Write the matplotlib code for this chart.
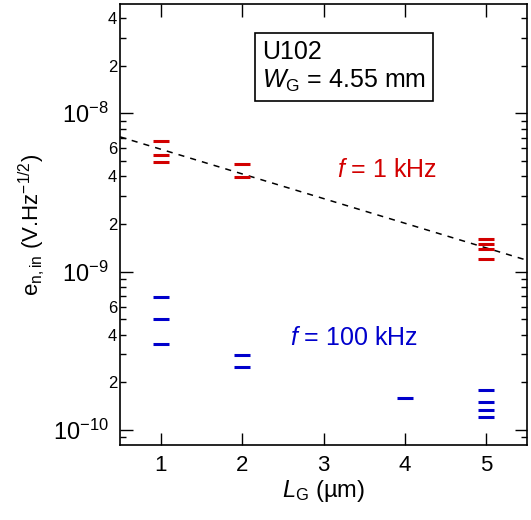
import math
import matplotlib
matplotlib.use("Agg")
import matplotlib.pyplot as plt
from matplotlib.ticker import FixedLocator, FuncFormatter

plt.rcParams['font.family'] = ['Liberation Sans', 'DejaVu Sans']
plt.rcParams['mathtext.fontset'] = 'custom'
plt.rcParams['mathtext.rm'] = 'Liberation Sans'
plt.rcParams['mathtext.it'] = 'Liberation Sans:italic'
plt.rcParams['mathtext.bf'] = 'Liberation Sans:bold'

# gate length (um) and input noise (V/sqrt(Hz))
lg_1khz = [1, 1, 1, 2, 2, 5, 5, 5, 5]
en_1khz = [6.72e-9, 5.47e-9, 4.94e-9, 4.76e-9, 3.98e-9, 1.60e-9, 1.49e-9, 1.40e-9, 1.20e-9]
lg_100khz = [1, 1, 1, 2, 2, 4, 5, 5, 5, 5]
en_100khz = [6.9e-10, 5.0e-10, 3.5e-10, 2.98e-10, 2.49e-10, 1.60e-10, 1.80e-10, 1.50e-10, 1.34e-10, 1.20e-10]
# guide line (1 kHz trend)
fit_lg = [0.5, 5.5]
fit_en = [7.1e-9, 1.18e-9]

red = '#d20000'
blue = '#0000cc'
ymin, ymax = 8.04e-11, 4.9e-8

fig = plt.figure(figsize=(5.31, 5.20), dpi=100)
ax = fig.add_axes([120/531, 1-445/520, 407/531, 441/520])

ax.plot(fit_lg, fit_en, color='black', lw=1.1, ls=(0, (4, 4)))
ax.plot(lg_1khz, en_1khz, ls='none', marker='_', ms=11, mew=2.2, color=red)
ax.plot(lg_100khz, en_100khz, ls='none', marker='_', ms=11, mew=2.2, color=blue)

ax.set_yscale('log')
ax.set_xlim(0.5, 5.5)
ax.set_ylim(ymin, ymax)
ax.set_xticks([1, 2, 3, 4, 5])

majors = [10.0**e for e in range(-10, -7)]
minors = [m * 10.0**e for e in range(-11, -7) for m in range(2, 10)]
minors = [v for v in minors if ymin <= v <= ymax]
ax.yaxis.set_major_locator(FixedLocator(majors))
ax.yaxis.set_minor_locator(FixedLocator(minors))


def major_fmt(v, pos):
    return r'$10^{%d}$' % int(round(math.log10(v)))


def minor_fmt(v, pos):
    e = math.floor(math.log10(v) + 1e-9)
    m = int(round(v / 10**e))
    return str(m) if m in (2, 4, 6) else ''


ax.yaxis.set_major_formatter(FuncFormatter(major_fmt))
ax.yaxis.set_minor_formatter(FuncFormatter(minor_fmt))

ax.tick_params(which='both', direction='in', top=True, right=True, color='black', width=1.0)
ax.tick_params(axis='x', which='major', length=9, labelsize=16, pad=7)
ax.tick_params(axis='y', which='major', length=9, labelsize=17, pad=8)
ax.tick_params(axis='y', which='minor', length=4.5, labelsize=12, pad=2)
for s in ax.spines.values():
    s.set_linewidth(1.2)

ax.set_xlabel(r'$L_{\mathrm{G}}$ (µm)', fontsize=17, labelpad=2)
ax.set_ylabel(r'e$_{\mathrm{n,in}}$ (V.Hz$^{-1/2}$)', fontsize=16, labelpad=4)

ax.text(0.349, 0.9195, 'U102\n' + r'$W_{\mathrm{G}}$ = 4.55 mm', transform=ax.transAxes,
        fontsize=18, ha='left', va='top', linespacing=1.2,
        bbox=dict(boxstyle='square,pad=0.3', fc='white', ec='black', lw=1.2))
ax.text(0.533, 0.624, r'$f$ = 1 kHz', transform=ax.transAxes, fontsize=18,
        color=red, ha='left', va='center')
ax.text(0.418, 0.243, r'$f$ = 100 kHz', transform=ax.transAxes, fontsize=18,
        color=blue, ha='left', va='center')

fig.savefig('out.png', dpi=100)
